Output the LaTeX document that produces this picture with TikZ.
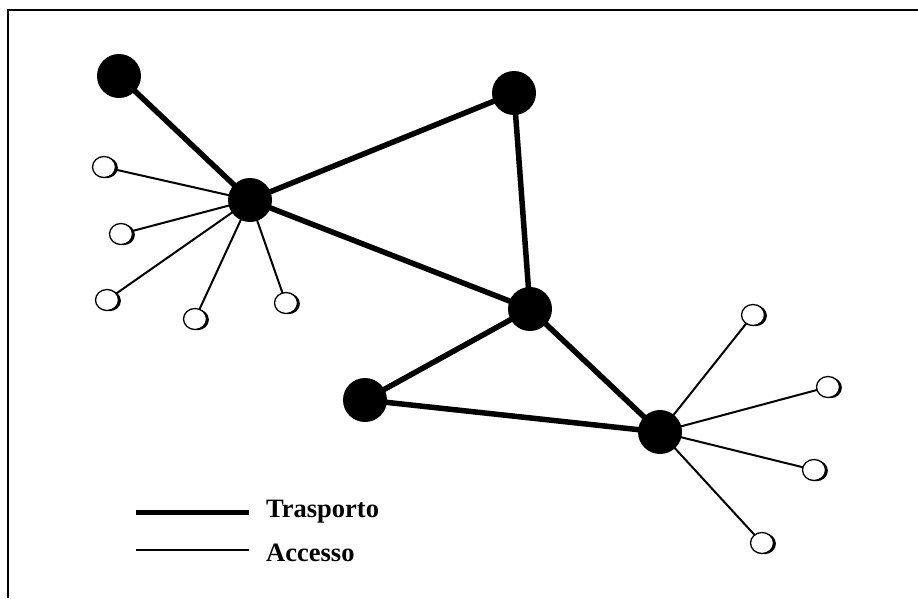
\documentclass[tikz,border=0pt]{standalone}
\usepackage{fontspec}
\setmainfont{Liberation Serif}
\usetikzlibrary{shapes.geometric,shadows,backgrounds}
\tikzset{
  bignode/.style={circle, fill=black, minimum size=44pt, inner sep=0pt},
  smallnode/.style={ellipse, draw=black, fill=white, line width=1.3pt, minimum width=23pt, minimum height=21pt, inner sep=0pt,
     drop shadow={shadow xshift=2.4pt, shadow yshift=-0.7pt, fill=black, opacity=1}},
  transport/.style={line width=5.5pt},
  access/.style={line width=2pt},
  frame/.style={line width=2pt},
  legendtext/.style={font=\bfseries\fontsize{26.5}{30}\selectfont, anchor=base west, inner sep=0pt}
}
\begin{document}
\begin{tikzpicture}[x=1pt,y=-1pt]
\useasboundingbox (0,0) rectangle (918,598);
\coordinate (fr1) at (8,598);
\coordinate (fr2) at (8,10);
\coordinate (fr3) at (918,10);
\draw[frame] (fr1) -- (fr2) -- (fr3);
% transport nodes
\node[bignode] (A) at (119,76) {};
\node[bignode] (B) at (250,200) {};
\node[bignode] (C) at (514,93) {};
\node[bignode] (D) at (530,309) {};
\node[bignode] (E) at (365,400) {};
\node[bignode] (F) at (660,432) {};
% access nodes
\node[smallnode] (l1) at (104,167) {};
\node[smallnode] (l2) at (121,234) {};
\node[smallnode] (l3) at (107,300) {};
\node[smallnode] (l4) at (195,319) {};
\node[smallnode] (l5) at (286,303) {};
\node[smallnode] (r1) at (753,315) {};
\node[smallnode] (r2) at (828,387) {};
\node[smallnode] (r3) at (814,470) {};
\node[smallnode] (r4) at (762,543) {};
\begin{pgfonlayer}{background}
\draw[transport] (A.center) -- (B.center);
\draw[transport] (B.center) -- (C.center);
\draw[transport] (B.center) -- (D.center);
\draw[transport] (C.center) -- (D.center);
\draw[transport] (D.center) -- (E.center);
\draw[transport] (D.center) -- (F.center);
\draw[transport] (E.center) -- (F.center);
\foreach \n in {l1,l2,l3,l4,l5} \draw[access] (B.center) -- (\n.center);
\foreach \n in {r1,r2,r3,r4} \draw[access] (F.center) -- (\n.center);
\end{pgfonlayer}
% legend
\coordinate (t1) at (136,512);
\coordinate (t2) at (249,512);
\coordinate (a1) at (136,550);
\coordinate (a2) at (249,550);
\draw[transport, line width=5pt] (t1) -- (t2);
\draw[access] (a1) -- (a2);
\node[legendtext] (tl) at (266,517) {Trasporto};
\node[legendtext] (al) at (266,561) {Accesso};
\end{tikzpicture}
\end{document}
